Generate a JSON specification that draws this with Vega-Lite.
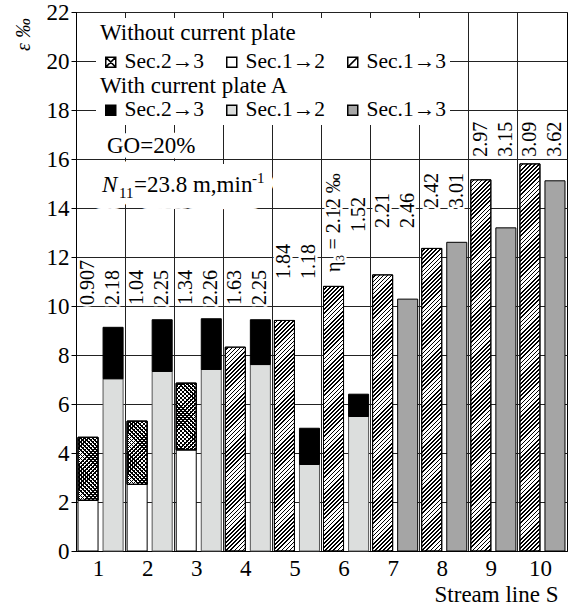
{
"$schema":"https://vega.github.io/schema/vega-lite/v6.json",
"width":491,"height":539,
"autosize":{"type":"none"},
"padding":{"left":76,"top":12,"right":4,"bottom":56},
"background":"white",
"config":{
 "font":"Liberation Serif",
 "view":{"stroke":"black","strokeWidth":1},
 "axis":{"domainColor":"black","tickColor":"black","gridColor":"#222","gridOpacity":1,"gridWidth":1,"labelColor":"black","titleColor":"black","labelFont":"Liberation Serif","titleFont":"Liberation Serif","titleFontWeight":"normal"},
 "legend":{"orient":"none","direction":"horizontal","columns":3,"columnPadding":17,"fillColor":"white","padding":4,"symbolSize":100,"symbolType":"square","symbolStrokeColor":"black","symbolStrokeWidth":1.5,"labelFont":"Liberation Serif","labelFontSize":21.5,"labelColor":"black","labelOffset":3,"labelLimit":400,"titleFont":"Liberation Serif","titleFontSize":23,"titleFontWeight":"normal","titleColor":"black","titleLimit":400}
},
"params":[{"name":"hatch","value":[
{"offset":0,"color":"transparent"},{"offset":0.006,"color":"transparent"},{"offset":0.006,"color":"#000"},{"offset":0.01,"color":"#000"},
{"offset":0.01,"color":"transparent"},{"offset":0.016,"color":"transparent"},{"offset":0.016,"color":"#000"},{"offset":0.02,"color":"#000"},
{"offset":0.02,"color":"transparent"},{"offset":0.026,"color":"transparent"},{"offset":0.026,"color":"#000"},{"offset":0.03,"color":"#000"},
{"offset":0.03,"color":"transparent"},{"offset":0.036,"color":"transparent"},{"offset":0.036,"color":"#000"},{"offset":0.04,"color":"#000"},
{"offset":0.04,"color":"transparent"},{"offset":0.046,"color":"transparent"},{"offset":0.046,"color":"#000"},{"offset":0.05,"color":"#000"},
{"offset":0.05,"color":"transparent"},{"offset":0.056,"color":"transparent"},{"offset":0.056,"color":"#000"},{"offset":0.06,"color":"#000"},
{"offset":0.06,"color":"transparent"},{"offset":0.066,"color":"transparent"},{"offset":0.066,"color":"#000"},{"offset":0.07,"color":"#000"},
{"offset":0.07,"color":"transparent"},{"offset":0.076,"color":"transparent"},{"offset":0.076,"color":"#000"},{"offset":0.08,"color":"#000"},
{"offset":0.08,"color":"transparent"},{"offset":0.086,"color":"transparent"},{"offset":0.086,"color":"#000"},{"offset":0.09,"color":"#000"},
{"offset":0.09,"color":"transparent"},{"offset":0.096,"color":"transparent"},{"offset":0.096,"color":"#000"},{"offset":0.1,"color":"#000"},
{"offset":0.1,"color":"transparent"},{"offset":0.106,"color":"transparent"},{"offset":0.106,"color":"#000"},{"offset":0.11,"color":"#000"},
{"offset":0.11,"color":"transparent"},{"offset":0.116,"color":"transparent"},{"offset":0.116,"color":"#000"},{"offset":0.12,"color":"#000"},
{"offset":0.12,"color":"transparent"},{"offset":0.126,"color":"transparent"},{"offset":0.126,"color":"#000"},{"offset":0.13,"color":"#000"},
{"offset":0.13,"color":"transparent"},{"offset":0.136,"color":"transparent"},{"offset":0.136,"color":"#000"},{"offset":0.14,"color":"#000"},
{"offset":0.14,"color":"transparent"},{"offset":0.146,"color":"transparent"},{"offset":0.146,"color":"#000"},{"offset":0.15,"color":"#000"},
{"offset":0.15,"color":"transparent"},{"offset":0.156,"color":"transparent"},{"offset":0.156,"color":"#000"},{"offset":0.16,"color":"#000"},
{"offset":0.16,"color":"transparent"},{"offset":0.166,"color":"transparent"},{"offset":0.166,"color":"#000"},{"offset":0.17,"color":"#000"},
{"offset":0.17,"color":"transparent"},{"offset":0.176,"color":"transparent"},{"offset":0.176,"color":"#000"},{"offset":0.18,"color":"#000"},
{"offset":0.18,"color":"transparent"},{"offset":0.186,"color":"transparent"},{"offset":0.186,"color":"#000"},{"offset":0.19,"color":"#000"},
{"offset":0.19,"color":"transparent"},{"offset":0.196,"color":"transparent"},{"offset":0.196,"color":"#000"},{"offset":0.2,"color":"#000"},
{"offset":0.2,"color":"transparent"},{"offset":0.206,"color":"transparent"},{"offset":0.206,"color":"#000"},{"offset":0.21,"color":"#000"},
{"offset":0.21,"color":"transparent"},{"offset":0.216,"color":"transparent"},{"offset":0.216,"color":"#000"},{"offset":0.22,"color":"#000"},
{"offset":0.22,"color":"transparent"},{"offset":0.226,"color":"transparent"},{"offset":0.226,"color":"#000"},{"offset":0.23,"color":"#000"},
{"offset":0.23,"color":"transparent"},{"offset":0.236,"color":"transparent"},{"offset":0.236,"color":"#000"},{"offset":0.24,"color":"#000"},
{"offset":0.24,"color":"transparent"},{"offset":0.246,"color":"transparent"},{"offset":0.246,"color":"#000"},{"offset":0.25,"color":"#000"},
{"offset":0.25,"color":"transparent"},{"offset":0.256,"color":"transparent"},{"offset":0.256,"color":"#000"},{"offset":0.26,"color":"#000"},
{"offset":0.26,"color":"transparent"},{"offset":0.266,"color":"transparent"},{"offset":0.266,"color":"#000"},{"offset":0.27,"color":"#000"},
{"offset":0.27,"color":"transparent"},{"offset":0.276,"color":"transparent"},{"offset":0.276,"color":"#000"},{"offset":0.28,"color":"#000"},
{"offset":0.28,"color":"transparent"},{"offset":0.286,"color":"transparent"},{"offset":0.286,"color":"#000"},{"offset":0.29,"color":"#000"},
{"offset":0.29,"color":"transparent"},{"offset":0.296,"color":"transparent"},{"offset":0.296,"color":"#000"},{"offset":0.3,"color":"#000"},
{"offset":0.3,"color":"transparent"},{"offset":0.306,"color":"transparent"},{"offset":0.306,"color":"#000"},{"offset":0.31,"color":"#000"},
{"offset":0.31,"color":"transparent"},{"offset":0.316,"color":"transparent"},{"offset":0.316,"color":"#000"},{"offset":0.32,"color":"#000"},
{"offset":0.32,"color":"transparent"},{"offset":0.326,"color":"transparent"},{"offset":0.326,"color":"#000"},{"offset":0.33,"color":"#000"},
{"offset":0.33,"color":"transparent"},{"offset":0.336,"color":"transparent"},{"offset":0.336,"color":"#000"},{"offset":0.34,"color":"#000"},
{"offset":0.34,"color":"transparent"},{"offset":0.346,"color":"transparent"},{"offset":0.346,"color":"#000"},{"offset":0.35,"color":"#000"},
{"offset":0.35,"color":"transparent"},{"offset":0.356,"color":"transparent"},{"offset":0.356,"color":"#000"},{"offset":0.36,"color":"#000"},
{"offset":0.36,"color":"transparent"},{"offset":0.366,"color":"transparent"},{"offset":0.366,"color":"#000"},{"offset":0.37,"color":"#000"},
{"offset":0.37,"color":"transparent"},{"offset":0.376,"color":"transparent"},{"offset":0.376,"color":"#000"},{"offset":0.38,"color":"#000"},
{"offset":0.38,"color":"transparent"},{"offset":0.386,"color":"transparent"},{"offset":0.386,"color":"#000"},{"offset":0.39,"color":"#000"},
{"offset":0.39,"color":"transparent"},{"offset":0.396,"color":"transparent"},{"offset":0.396,"color":"#000"},{"offset":0.4,"color":"#000"},
{"offset":0.4,"color":"transparent"},{"offset":0.406,"color":"transparent"},{"offset":0.406,"color":"#000"},{"offset":0.41,"color":"#000"},
{"offset":0.41,"color":"transparent"},{"offset":0.416,"color":"transparent"},{"offset":0.416,"color":"#000"},{"offset":0.42,"color":"#000"},
{"offset":0.42,"color":"transparent"},{"offset":0.426,"color":"transparent"},{"offset":0.426,"color":"#000"},{"offset":0.43,"color":"#000"},
{"offset":0.43,"color":"transparent"},{"offset":0.436,"color":"transparent"},{"offset":0.436,"color":"#000"},{"offset":0.44,"color":"#000"},
{"offset":0.44,"color":"transparent"},{"offset":0.446,"color":"transparent"},{"offset":0.446,"color":"#000"},{"offset":0.45,"color":"#000"},
{"offset":0.45,"color":"transparent"},{"offset":0.456,"color":"transparent"},{"offset":0.456,"color":"#000"},{"offset":0.46,"color":"#000"},
{"offset":0.46,"color":"transparent"},{"offset":0.466,"color":"transparent"},{"offset":0.466,"color":"#000"},{"offset":0.47,"color":"#000"},
{"offset":0.47,"color":"transparent"},{"offset":0.476,"color":"transparent"},{"offset":0.476,"color":"#000"},{"offset":0.48,"color":"#000"},
{"offset":0.48,"color":"transparent"},{"offset":0.486,"color":"transparent"},{"offset":0.486,"color":"#000"},{"offset":0.49,"color":"#000"},
{"offset":0.49,"color":"transparent"},{"offset":0.496,"color":"transparent"},{"offset":0.496,"color":"#000"},{"offset":0.5,"color":"#000"},
{"offset":0.5,"color":"transparent"},{"offset":0.506,"color":"transparent"},{"offset":0.506,"color":"#000"},{"offset":0.51,"color":"#000"},
{"offset":0.51,"color":"transparent"},{"offset":0.516,"color":"transparent"},{"offset":0.516,"color":"#000"},{"offset":0.52,"color":"#000"},
{"offset":0.52,"color":"transparent"},{"offset":0.526,"color":"transparent"},{"offset":0.526,"color":"#000"},{"offset":0.53,"color":"#000"},
{"offset":0.53,"color":"transparent"},{"offset":0.536,"color":"transparent"},{"offset":0.536,"color":"#000"},{"offset":0.54,"color":"#000"},
{"offset":0.54,"color":"transparent"},{"offset":0.546,"color":"transparent"},{"offset":0.546,"color":"#000"},{"offset":0.55,"color":"#000"},
{"offset":0.55,"color":"transparent"},{"offset":0.556,"color":"transparent"},{"offset":0.556,"color":"#000"},{"offset":0.56,"color":"#000"},
{"offset":0.56,"color":"transparent"},{"offset":0.566,"color":"transparent"},{"offset":0.566,"color":"#000"},{"offset":0.57,"color":"#000"},
{"offset":0.57,"color":"transparent"},{"offset":0.576,"color":"transparent"},{"offset":0.576,"color":"#000"},{"offset":0.58,"color":"#000"},
{"offset":0.58,"color":"transparent"},{"offset":0.586,"color":"transparent"},{"offset":0.586,"color":"#000"},{"offset":0.59,"color":"#000"},
{"offset":0.59,"color":"transparent"},{"offset":0.596,"color":"transparent"},{"offset":0.596,"color":"#000"},{"offset":0.6,"color":"#000"},
{"offset":0.6,"color":"transparent"},{"offset":0.606,"color":"transparent"},{"offset":0.606,"color":"#000"},{"offset":0.61,"color":"#000"},
{"offset":0.61,"color":"transparent"},{"offset":0.616,"color":"transparent"},{"offset":0.616,"color":"#000"},{"offset":0.62,"color":"#000"},
{"offset":0.62,"color":"transparent"},{"offset":0.626,"color":"transparent"},{"offset":0.626,"color":"#000"},{"offset":0.63,"color":"#000"},
{"offset":0.63,"color":"transparent"},{"offset":0.636,"color":"transparent"},{"offset":0.636,"color":"#000"},{"offset":0.64,"color":"#000"},
{"offset":0.64,"color":"transparent"},{"offset":0.646,"color":"transparent"},{"offset":0.646,"color":"#000"},{"offset":0.65,"color":"#000"},
{"offset":0.65,"color":"transparent"},{"offset":0.656,"color":"transparent"},{"offset":0.656,"color":"#000"},{"offset":0.66,"color":"#000"},
{"offset":0.66,"color":"transparent"},{"offset":0.666,"color":"transparent"},{"offset":0.666,"color":"#000"},{"offset":0.67,"color":"#000"},
{"offset":0.67,"color":"transparent"},{"offset":0.676,"color":"transparent"},{"offset":0.676,"color":"#000"},{"offset":0.68,"color":"#000"},
{"offset":0.68,"color":"transparent"},{"offset":0.686,"color":"transparent"},{"offset":0.686,"color":"#000"},{"offset":0.69,"color":"#000"},
{"offset":0.69,"color":"transparent"},{"offset":0.696,"color":"transparent"},{"offset":0.696,"color":"#000"},{"offset":0.7,"color":"#000"},
{"offset":0.7,"color":"transparent"},{"offset":0.706,"color":"transparent"},{"offset":0.706,"color":"#000"},{"offset":0.71,"color":"#000"},
{"offset":0.71,"color":"transparent"},{"offset":0.716,"color":"transparent"},{"offset":0.716,"color":"#000"},{"offset":0.72,"color":"#000"},
{"offset":0.72,"color":"transparent"},{"offset":0.726,"color":"transparent"},{"offset":0.726,"color":"#000"},{"offset":0.73,"color":"#000"},
{"offset":0.73,"color":"transparent"},{"offset":0.736,"color":"transparent"},{"offset":0.736,"color":"#000"},{"offset":0.74,"color":"#000"},
{"offset":0.74,"color":"transparent"},{"offset":0.746,"color":"transparent"},{"offset":0.746,"color":"#000"},{"offset":0.75,"color":"#000"},
{"offset":0.75,"color":"transparent"},{"offset":0.756,"color":"transparent"},{"offset":0.756,"color":"#000"},{"offset":0.76,"color":"#000"},
{"offset":0.76,"color":"transparent"},{"offset":0.766,"color":"transparent"},{"offset":0.766,"color":"#000"},{"offset":0.77,"color":"#000"},
{"offset":0.77,"color":"transparent"},{"offset":0.776,"color":"transparent"},{"offset":0.776,"color":"#000"},{"offset":0.78,"color":"#000"},
{"offset":0.78,"color":"transparent"},{"offset":0.786,"color":"transparent"},{"offset":0.786,"color":"#000"},{"offset":0.79,"color":"#000"},
{"offset":0.79,"color":"transparent"},{"offset":0.796,"color":"transparent"},{"offset":0.796,"color":"#000"},{"offset":0.8,"color":"#000"},
{"offset":0.8,"color":"transparent"},{"offset":0.806,"color":"transparent"},{"offset":0.806,"color":"#000"},{"offset":0.81,"color":"#000"},
{"offset":0.81,"color":"transparent"},{"offset":0.816,"color":"transparent"},{"offset":0.816,"color":"#000"},{"offset":0.82,"color":"#000"},
{"offset":0.82,"color":"transparent"},{"offset":0.826,"color":"transparent"},{"offset":0.826,"color":"#000"},{"offset":0.83,"color":"#000"},
{"offset":0.83,"color":"transparent"},{"offset":0.836,"color":"transparent"},{"offset":0.836,"color":"#000"},{"offset":0.84,"color":"#000"},
{"offset":0.84,"color":"transparent"},{"offset":0.846,"color":"transparent"},{"offset":0.846,"color":"#000"},{"offset":0.85,"color":"#000"},
{"offset":0.85,"color":"transparent"},{"offset":0.856,"color":"transparent"},{"offset":0.856,"color":"#000"},{"offset":0.86,"color":"#000"},
{"offset":0.86,"color":"transparent"},{"offset":0.866,"color":"transparent"},{"offset":0.866,"color":"#000"},{"offset":0.87,"color":"#000"},
{"offset":0.87,"color":"transparent"},{"offset":0.876,"color":"transparent"},{"offset":0.876,"color":"#000"},{"offset":0.88,"color":"#000"},
{"offset":0.88,"color":"transparent"},{"offset":0.886,"color":"transparent"},{"offset":0.886,"color":"#000"},{"offset":0.89,"color":"#000"},
{"offset":0.89,"color":"transparent"},{"offset":0.896,"color":"transparent"},{"offset":0.896,"color":"#000"},{"offset":0.9,"color":"#000"},
{"offset":0.9,"color":"transparent"},{"offset":0.906,"color":"transparent"},{"offset":0.906,"color":"#000"},{"offset":0.91,"color":"#000"},
{"offset":0.91,"color":"transparent"},{"offset":0.916,"color":"transparent"},{"offset":0.916,"color":"#000"},{"offset":0.92,"color":"#000"},
{"offset":0.92,"color":"transparent"},{"offset":0.926,"color":"transparent"},{"offset":0.926,"color":"#000"},{"offset":0.93,"color":"#000"},
{"offset":0.93,"color":"transparent"},{"offset":0.936,"color":"transparent"},{"offset":0.936,"color":"#000"},{"offset":0.94,"color":"#000"},
{"offset":0.94,"color":"transparent"},{"offset":0.946,"color":"transparent"},{"offset":0.946,"color":"#000"},{"offset":0.95,"color":"#000"},
{"offset":0.95,"color":"transparent"},{"offset":0.956,"color":"transparent"},{"offset":0.956,"color":"#000"},{"offset":0.96,"color":"#000"},
{"offset":0.96,"color":"transparent"},{"offset":0.966,"color":"transparent"},{"offset":0.966,"color":"#000"},{"offset":0.97,"color":"#000"},
{"offset":0.97,"color":"transparent"},{"offset":0.976,"color":"transparent"},{"offset":0.976,"color":"#000"},{"offset":0.98,"color":"#000"},
{"offset":0.98,"color":"transparent"},{"offset":0.986,"color":"transparent"},{"offset":0.986,"color":"#000"},{"offset":0.99,"color":"#000"},
{"offset":0.99,"color":"transparent"},{"offset":0.996,"color":"transparent"},{"offset":0.996,"color":"#000"},{"offset":1,"color":"#000"}
]}],
"datasets":{
 "bars":[
  {"S":1,"plate":"without","sec":"Sec.1→2","lo":0,"hi":2.07},
  {"S":1,"plate":"without","sec":"Sec.2→3","lo":2.07,"hi":4.64},
  {"S":1,"plate":"with","sec":"Sec.1→2","lo":0,"hi":7.03},
  {"S":1,"plate":"with","sec":"Sec.2→3","lo":7.03,"hi":9.13},
  {"S":2,"plate":"without","sec":"Sec.1→2","lo":0,"hi":2.72},
  {"S":2,"plate":"without","sec":"Sec.2→3","lo":2.72,"hi":5.30},
  {"S":2,"plate":"with","sec":"Sec.1→2","lo":0,"hi":7.33},
  {"S":2,"plate":"with","sec":"Sec.2→3","lo":7.33,"hi":9.44},
  {"S":3,"plate":"without","sec":"Sec.1→2","lo":0,"hi":4.13},
  {"S":3,"plate":"without","sec":"Sec.2→3","lo":4.13,"hi":6.85},
  {"S":3,"plate":"with","sec":"Sec.1→2","lo":0,"hi":7.41},
  {"S":3,"plate":"with","sec":"Sec.2→3","lo":7.41,"hi":9.48},
  {"S":4,"plate":"without","sec":"Sec.1→3","lo":0,"hi":8.32},
  {"S":4,"plate":"with","sec":"Sec.1→2","lo":0,"hi":7.61},
  {"S":4,"plate":"with","sec":"Sec.2→3","lo":7.61,"hi":9.44},
  {"S":5,"plate":"without","sec":"Sec.1→3","lo":0,"hi":9.41},
  {"S":5,"plate":"with","sec":"Sec.1→2","lo":0,"hi":3.53},
  {"S":5,"plate":"with","sec":"Sec.2→3","lo":3.53,"hi":5.01},
  {"S":6,"plate":"without","sec":"Sec.1→3","lo":0,"hi":10.80},
  {"S":6,"plate":"with","sec":"Sec.1→2","lo":0,"hi":5.49},
  {"S":6,"plate":"with","sec":"Sec.2→3","lo":5.49,"hi":6.40},
  {"S":7,"plate":"without","sec":"Sec.1→3","lo":0,"hi":11.27},
  {"S":7,"plate":"with","sec":"Sec.1→3","lo":0,"hi":10.28},
  {"S":8,"plate":"without","sec":"Sec.1→3","lo":0,"hi":12.35},
  {"S":8,"plate":"with","sec":"Sec.1→3","lo":0,"hi":12.60},
  {"S":9,"plate":"without","sec":"Sec.1→3","lo":0,"hi":15.15},
  {"S":9,"plate":"with","sec":"Sec.1→3","lo":0,"hi":13.19},
  {"S":10,"plate":"without","sec":"Sec.1→3","lo":0,"hi":15.80},
  {"S":10,"plate":"with","sec":"Sec.1→3","lo":0,"hi":15.11}
 ],
 "labels":[
  {"S":1,"plate":"without","label":"0.907","at":10.04},
  {"S":1,"plate":"with","label":"2.18","at":10.04},
  {"S":2,"plate":"without","label":"1.04","at":10.04},
  {"S":2,"plate":"with","label":"2.25","at":10.04},
  {"S":3,"plate":"without","label":"1.34","at":10.04},
  {"S":3,"plate":"with","label":"2.26","at":10.04},
  {"S":4,"plate":"without","label":"1.63","at":10.04},
  {"S":4,"plate":"with","label":"2.25","at":10.04},
  {"S":5,"plate":"without","label":"1.84","at":11.1},
  {"S":5,"plate":"with","label":"1.18","at":11.1},
  {"S":6,"plate":"without","label":"η₃ = 2.12 ‰","at":11.39},
  {"S":6,"plate":"with","label":"1.52","at":13.02},
  {"S":7,"plate":"without","label":"2.21","at":13.18},
  {"S":7,"plate":"with","label":"2.46","at":13.18},
  {"S":8,"plate":"without","label":"2.42","at":14.0},
  {"S":8,"plate":"with","label":"3.01","at":14.0},
  {"S":9,"plate":"without","label":"2.97","at":16.09},
  {"S":9,"plate":"with","label":"3.15","at":16.09},
  {"S":10,"plate":"without","label":"3.09","at":16.09},
  {"S":10,"plate":"with","label":"3.62","at":16.09}
 ]
},
"layer":[
 {"data":{"name":"bars"},
  "transform":[{"filter":"datum.plate === 'without'"}],
  "mark":{"type":"bar","stroke":"black","strokeWidth":1},
  "encoding":{
   "x":{"field":"S","type":"ordinal","scale":{"domain":[1,2,3,4,5,6,7,8,9,10],"paddingInner":0,"paddingOuter":0},
        "axis":{"bandPosition":0,"grid":true,"ticks":false,"domain":true,"labelOffset":-2,"labelAngle":0,"labelPadding":6,"labelFontSize":23,"labelBaseline":"top","title":"Stream line S","titleX":482,"titleY":50,"titleAlign":"right","titleBaseline":"alphabetic","titleFontSize":23}},
   "xOffset":{"field":"plate","type":"nominal","scale":{"domain":["without","with"],"paddingInner":0.2,"paddingOuter":0.08}},
   "y":{"field":"hi","type":"quantitative","scale":{"domain":[0,22],"nice":false},
        "axis":{"values":[0,2,4,6,8,10,12,14,16,18,20,22],"grid":true,"tickSize":5,"labelPadding":2,"labelFontSize":23,"title":"ε ‰","titleX":-53,"titleY":22,"titleAngle":-90,"titleAlign":"center","titleBaseline":"middle","titleFontSize":20,"titleFontStyle":"italic"}},
   "y2":{"field":"lo"},
   "fill":{"field":"sec","type":"nominal","scale":{"domain":["Sec.2→3","Sec.1→2","Sec.1→3"],"range":["white","white","white"]},
     "legend":{"title":"Without current plate","orient":"none","legendX":20,"legendY":6,"titlePadding":6,
       "encode":{"symbols":{"update":{"shape":{"signal":"datum.value === 'Sec.2→3' ? 'M-1,-1H1V1H-1ZM-1,-1L1,1M1,-1L-1,1' : (datum.value === 'Sec.1→3' ? 'M-1,-1H1V1H-1ZM-1,1L1,-1' : 'square')"},"stroke":{"value":"black"},"strokeWidth":{"value":1.5},"fill":{"value":"white"}}}}}}
  }},
 {"data":{"name":"bars"},
  "transform":[{"filter":"datum.plate === 'with'"}],
  "mark":{"type":"bar","strokeWidth":1},
  "encoding":{
   "x":{"field":"S","type":"ordinal"},
   "xOffset":{"field":"plate","type":"nominal"},
   "y":{"field":"hi","type":"quantitative"},
   "y2":{"field":"lo"},
   "stroke":{"condition":{"test":"datum.sec === 'Sec.1→2'","value":"#555"},"value":"black"},
   "fill":{"field":"sec","type":"nominal","scale":{"domain":["Sec.2→3","Sec.1→2","Sec.1→3"],"range":["black","#dcdedd","#a5a5a5"]},
     "legend":{"title":"With current plate A","orient":"none","legendX":20,"legendY":59,"titlePadding":1,
       "encode":{"symbols":{"update":{"stroke":{"value":"black"},"strokeWidth":{"value":1.5}}}}}}
  }},
 {"data":{"name":"bars"},
  "transform":[{"filter":"datum.plate === 'without' && datum.sec !== 'Sec.1→2'"}],
  "mark":{"type":"bar","stroke":"black","strokeWidth":1,
    "fill":{"expr":"{gradient: 'linear', x1: 0, y1: 0, x2: 410 * bandwidth('xOffset') / (pow(bandwidth('xOffset'), 2) + pow(scale('y', datum.lo) - scale('y', datum.hi), 2)), y2: 410 * (scale('y', datum.lo) - scale('y', datum.hi)) / (pow(bandwidth('xOffset'), 2) + pow(scale('y', datum.lo) - scale('y', datum.hi), 2)), stops: hatch}"}},
  "encoding":{
   "x":{"field":"S","type":"ordinal"},
   "xOffset":{"field":"plate","type":"nominal"},
   "y":{"field":"hi","type":"quantitative"},
   "y2":{"field":"lo"}
  }},
 {"data":{"name":"bars"},
  "transform":[{"filter":"datum.plate === 'without' && datum.sec === 'Sec.2→3'"}],
  "mark":{"type":"bar","stroke":"black","strokeWidth":1,
    "fill":{"expr":"{gradient: 'linear', x1: 0, y1: 1, x2: 410 * bandwidth('xOffset') / (pow(bandwidth('xOffset'), 2) + pow(scale('y', datum.lo) - scale('y', datum.hi), 2)), y2: 1 - 410 * (scale('y', datum.lo) - scale('y', datum.hi)) / (pow(bandwidth('xOffset'), 2) + pow(scale('y', datum.lo) - scale('y', datum.hi), 2)), stops: hatch}"}},
  "encoding":{
   "x":{"field":"S","type":"ordinal"},
   "xOffset":{"field":"plate","type":"nominal"},
   "y":{"field":"hi","type":"quantitative"},
   "y2":{"field":"lo"}
  }},
 {"data":{"name":"labels"},
  "mark":{"type":"text","angle":-90,"align":"left","baseline":"middle","fontSize":20,"fill":"white","stroke":"white","strokeWidth":5,"strokeJoin":"round"},
  "encoding":{
   "x":{"field":"S","type":"ordinal"},
   "xOffset":{"field":"plate","type":"nominal"},
   "y":{"field":"at","type":"quantitative"},
   "text":{"field":"label"}
  }},
 {"data":{"name":"labels"},
  "mark":{"type":"text","angle":-90,"align":"left","baseline":"middle","fontSize":20,"fill":"black"},
  "encoding":{
   "x":{"field":"S","type":"ordinal"},
   "xOffset":{"field":"plate","type":"nominal"},
   "y":{"field":"at","type":"quantitative"},
   "text":{"field":"label"}
  }},
 {"data":{"values":[{"t":"GO=20%"}]},
  "mark":{"type":"text","align":"left","baseline":"alphabetic","dx":31,"fontSize":23,"fill":"white","stroke":"white","strokeWidth":12,"strokeJoin":"round"},
  "encoding":{"x":{"datum":1,"type":"ordinal","bandPosition":0},"y":{"datum":16.24,"type":"quantitative"},"text":{"field":"t"}}},
 {"data":{"values":[{"t":"GO=20%"}]},
  "mark":{"type":"text","align":"left","baseline":"alphabetic","dx":31,"fontSize":23,"fill":"black"},
  "encoding":{"x":{"datum":1,"type":"ordinal","bandPosition":0},"y":{"datum":16.24,"type":"quantitative"},"text":{"field":"t"}}},
 {"data":{"values":[{"t":"=23.8 m,min"}]},
  "mark":{"type":"text","align":"left","baseline":"alphabetic","dx":58,"fontSize":23,"fill":"white","stroke":"white","strokeWidth":34,"strokeJoin":"round"},
  "encoding":{"x":{"datum":1,"type":"ordinal","bandPosition":0},"y":{"datum":14.65,"type":"quantitative"},"text":{"field":"t"}}},
 {"data":{"values":[{"t":"N"}]},
  "mark":{"type":"text","align":"left","baseline":"alphabetic","dx":26,"fontSize":23,"fontStyle":"italic","fill":"white","stroke":"white","strokeWidth":34,"strokeJoin":"round"},
  "encoding":{"x":{"datum":1,"type":"ordinal","bandPosition":0},"y":{"datum":14.65,"type":"quantitative"},"text":{"field":"t"}}},
 {"data":{"values":[{"t":"-1"}]},
  "mark":{"type":"text","align":"left","baseline":"alphabetic","dx":176,"dy":-9,"fontSize":15,"fill":"white","stroke":"white","strokeWidth":20,"strokeJoin":"round"},
  "encoding":{"x":{"datum":1,"type":"ordinal","bandPosition":0},"y":{"datum":14.65,"type":"quantitative"},"text":{"field":"t"}}},
 {"data":{"values":[{"t":"N"}]},
  "mark":{"type":"text","align":"left","baseline":"alphabetic","dx":26,"fontSize":23,"fontStyle":"italic","fill":"black"},
  "encoding":{"x":{"datum":1,"type":"ordinal","bandPosition":0},"y":{"datum":14.65,"type":"quantitative"},"text":{"field":"t"}}},
 {"data":{"values":[{"t":"11"}]},
  "mark":{"type":"text","align":"left","baseline":"alphabetic","dx":43,"dy":6,"fontSize":15,"fill":"black"},
  "encoding":{"x":{"datum":1,"type":"ordinal","bandPosition":0},"y":{"datum":14.65,"type":"quantitative"},"text":{"field":"t"}}},
 {"data":{"values":[{"t":"=23.8 m,min"}]},
  "mark":{"type":"text","align":"left","baseline":"alphabetic","dx":58,"fontSize":23,"fill":"black"},
  "encoding":{"x":{"datum":1,"type":"ordinal","bandPosition":0},"y":{"datum":14.65,"type":"quantitative"},"text":{"field":"t"}}},
 {"data":{"values":[{"t":"-1"}]},
  "mark":{"type":"text","align":"left","baseline":"alphabetic","dx":176,"dy":-9,"fontSize":15,"fill":"black"},
  "encoding":{"x":{"datum":1,"type":"ordinal","bandPosition":0},"y":{"datum":14.65,"type":"quantitative"},"text":{"field":"t"}}}
],
"resolve":{"scale":{"fill":"independent"}}
}
